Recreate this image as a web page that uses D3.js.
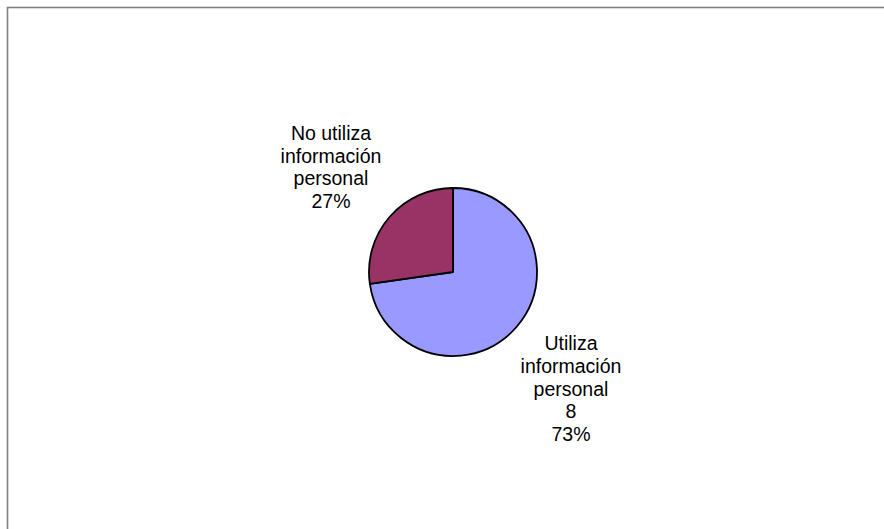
<!DOCTYPE html>
<html>
<head>
<meta charset="utf-8">
<script src="https://cdn.jsdelivr.net/npm/d3@7"></script>
<style>
  html, body { margin: 0; padding: 0; background: #ffffff; }
  svg { display: block; }
</style>
</head>
<body>
<div id="chart"></div>
<script>
// ---- Data ----
const categories = ["Utiliza información personal", "No utiliza información personal"];
const values = [8, 3];
const showValue = [true, false];
const colors = ["#9999FF", "#993366"];

// ---- Layout ----
const W = 884, H = 529;
const cx = 453, cy = 272, R = 84;
const fontSize = 19.5, lineH = 22.8;
// label block anchors (centre x, middle baseline y), relative to pie centre
const labelOffsets = [[118, 123.5], [-122, -98]];

const svg = d3.select("#chart").append("svg")
  .attr("width", W).attr("height", H);

svg.append("rect")
  .attr("x", 7.5).attr("y", 7.5)
  .attr("width", W + 20).attr("height", H + 20)
  .attr("fill", "#ffffff")
  .attr("stroke", "#808080")
  .attr("stroke-width", 1.6);

const total = d3.sum(values);
const pie = d3.pie().sort(null).value(d => d)(values);
const arc = d3.arc().innerRadius(0).outerRadius(R);

const g = svg.append("g").attr("transform", `translate(${cx},${cy})`);
g.selectAll("path.slice")
  .data(pie)
  .join("path")
  .attr("class", "slice")
  .attr("d", arc)
  .attr("fill", (d, i) => colors[i])
  .attr("stroke", "#000000")
  .attr("stroke-width", 1.8)
  .attr("stroke-linejoin", "round");

const fmtPct = d => Math.round(d / total * 100) + "%";

pie.forEach((d, i) => {
  const words = categories[i].split(" ");
  const lines = [words[0] === "No" ? words[0] + " " + words[1] : words[0]];
  const rest = words[0] === "No" ? words.slice(2) : words.slice(1);
  rest.forEach(w => lines.push(w));
  if (showValue[i]) lines.push(String(values[i]));
  lines.push(fmtPct(values[i]));

  const [ox, oy] = labelOffsets[i];
  const firstBase = cy + oy - (lines.length - 1) * lineH / 2;
  const t = svg.append("text")
    .attr("font-family", "'Liberation Sans', Arial, sans-serif")
    .attr("font-size", fontSize)
    .attr("fill", "#000000")
    .attr("text-anchor", "middle");
  lines.forEach((ln, k) => {
    t.append("tspan")
      .attr("x", cx + ox)
      .attr("y", firstBase + k * lineH)
      .text(ln);
  });
});
</script>
</body>
</html>
